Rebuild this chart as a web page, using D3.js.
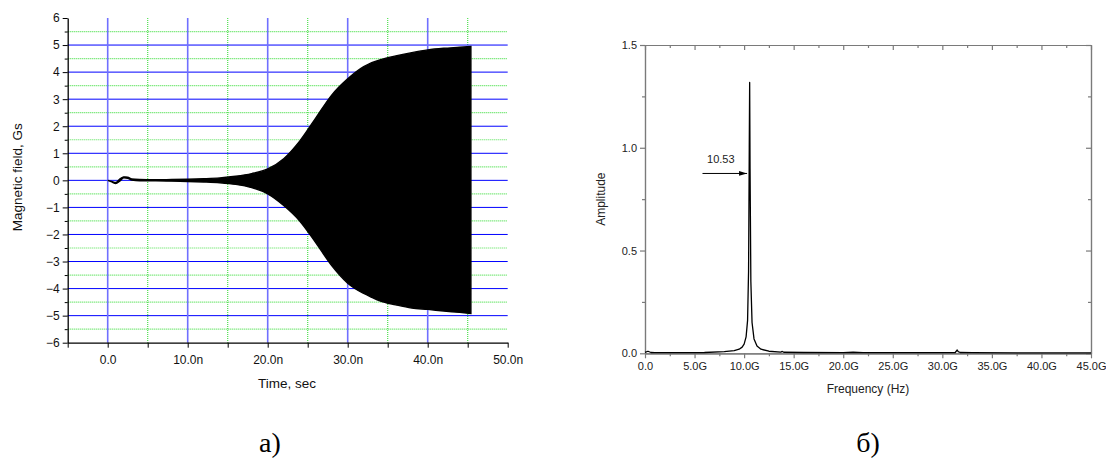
<!DOCTYPE html>
<html>
<head>
<meta charset="utf-8">
<script src="https://cdn.jsdelivr.net/npm/d3@7"></script>
<style>
  body { margin: 0; background: #fff; }
  svg { display: block; font-family: "Liberation Sans", Arial, sans-serif; }
</style>
</head>
<body>
<svg id="chart" width="1106" height="462"></svg>
<script>
// ---- panel a): magnetic field envelope (time in ns) ----
const timeNs = [0, 0.5, 1.0, 1.5, 2.0, 2.5, 3.0, 4, 6, 8, 10, 12, 14, 16, 18, 20, 22, 24, 26, 28, 30, 32, 33, 34, 36, 38, 40, 42, 44, 45.4];
const fieldUpper = [0, -0.04, -0.08, 0.05, 0.13, 0.12, 0.05, 0.03, 0.02, 0.03, 0.04, 0.06, 0.09, 0.15, 0.25, 0.42, 0.8, 1.45, 2.3, 3.15, 3.75, 4.2, 4.35, 4.45, 4.6, 4.72, 4.82, 4.88, 4.92, 4.95];
const fieldLower = [0, -0.06, -0.12, -0.03, 0.09, 0.08, 0.01, -0.02, -0.02, -0.03, -0.04, -0.06, -0.09, -0.15, -0.27, -0.5, -0.93, -1.5, -2.3, -3.15, -3.8, -4.18, -4.32, -4.45, -4.6, -4.72, -4.77, -4.83, -4.88, -4.92];
const timeTicks = [0, 10, 20, 30, 40, 50];
const timeMinor = [-5, 5, 15, 25, 35, 45];
const fieldTicks = [-6, -5, -4, -3, -2, -1, 0, 1, 2, 3, 4, 5, 6];
const fieldMinor = [-5.5, -4.5, -3.5, -2.5, -1.5, -0.5, 0.5, 1.5, 2.5, 3.5, 4.5, 5.5];

// ---- panel б): spectrum (frequency in GHz) ----
const freqG = [0, 0.3, 0.6, 1, 2, 4, 6, 8, 9, 9.5, 9.8, 10.0, 10.2, 10.35, 10.45, 10.52, 10.56, 10.6, 10.68, 10.8, 11.0, 11.3, 11.7, 12.5, 13.7, 13.85, 14.0, 16, 20, 21, 22, 25, 30, 31.3, 31.5, 31.6, 31.8, 33, 38, 45];
const amplitude = [0.005, 0.01, 0.004, 0.003, 0.003, 0.003, 0.004, 0.008, 0.013, 0.02, 0.03, 0.045, 0.08, 0.16, 0.4, 1.0, 1.318, 0.9, 0.35, 0.15, 0.07, 0.035, 0.02, 0.01, 0.006, 0.009, 0.005, 0.004, 0.003, 0.005, 0.003, 0.003, 0.003, 0.004, 0.016, 0.008, 0.004, 0.003, 0.002, 0.002];
const freqTicks = [0, 5, 10, 15, 20, 25, 30, 35, 40, 45];
const freqMinor = [2.5, 7.5, 12.5, 17.5, 22.5, 27.5, 32.5, 37.5, 42.5];
const ampTicks = [0, 0.5, 1.0, 1.5];
const ampMinor = [0.25, 0.75, 1.25];
const peakLabel = "10.53";
const arrowFreq = [5.8, 10.3];   // arrow start / end, GHz
const arrowAmp = 0.875;

const svg = d3.select("#chart");

// ================= panel a) =================
const xa = d3.scaleLinear().domain([-5, 50]).range([67.7, 507.7]);
const ya = d3.scaleLinear().domain([-6, 6]).range([342.7, 18]);

const ga = svg.append("g");

// minor grid (green dotted)
ga.append("g").selectAll("line").data(fieldMinor).join("line")
    .attr("x1", xa(-5)).attr("x2", xa(50))
    .attr("y1", d => ya(d)).attr("y2", d => ya(d))
    .attr("stroke", "#4fe04f").attr("stroke-width", 1.2).attr("stroke-dasharray", "1,1");
ga.append("g").selectAll("line").data(timeMinor.filter(d => d > -5)).join("line")
    .attr("x1", d => xa(d)).attr("x2", d => xa(d))
    .attr("y1", ya(6)).attr("y2", ya(-6))
    .attr("stroke", "#4fe04f").attr("stroke-width", 1.2).attr("stroke-dasharray", "1,1");

// major grid (blue)
ga.append("g").selectAll("line").data(fieldTicks.filter(d => Math.abs(d) < 6)).join("line")
    .attr("x1", xa(-5)).attr("x2", xa(50))
    .attr("y1", d => ya(d)).attr("y2", d => ya(d))
    .attr("stroke", "#0000ff").attr("stroke-width", 1);
ga.append("g").selectAll("line").data(timeTicks.filter(d => d < 50)).join("line")
    .attr("x1", d => xa(d)).attr("x2", d => xa(d))
    .attr("y1", ya(6)).attr("y2", ya(-6))
    .attr("stroke", "#7070ff").attr("stroke-width", 1.6);

// envelope
const env = timeNs.map((t, i) => [t, fieldUpper[i], fieldLower[i]]);
ga.append("path")
    .datum(env)
    .attr("fill", "#000")
    .attr("stroke", "#000")
    .attr("stroke-width", 1.4)
    .attr("d", d3.area().x(d => xa(d[0])).y0(d => ya(d[2])).y1(d => ya(d[1])).curve(d3.curveMonotoneX));

// axes
const fmtTime = d => d === 0 ? "0.0" : d.toFixed(1) + "n";
ga.append("g")
    .attr("transform", `translate(0,${ya(-6)})`)
    .call(d3.axisBottom(xa).tickValues(timeMinor.concat(timeTicks)).tickFormat(d => timeTicks.includes(d) ? fmtTime(d) : "").tickSize(5).tickSizeOuter(0).tickPadding(8))
    .call(g => g.select(".domain").attr("stroke-width", 1.3))
    .call(g => g.selectAll("text").attr("font-size", 12).attr("font-family", "Liberation Sans, Arial").attr("fill", "#111"));

ga.append("g")
    .attr("transform", `translate(${xa(-5)},0)`)
    .call(d3.axisLeft(ya).tickValues(fieldTicks).tickFormat(d3.format("d")).tickSize(5).tickSizeOuter(0).tickPadding(3))
    .call(g => g.select(".domain").attr("stroke-width", 1.3))
    .call(g => g.selectAll("text").attr("font-size", 12).attr("font-family", "Liberation Sans, Arial").attr("fill", "#111"));
ga.append("g")
    .attr("transform", `translate(${xa(-5)},0)`)
    .call(d3.axisLeft(ya).tickValues(fieldMinor).tickFormat("").tickSize(3).tickSizeOuter(0))
    .call(g => g.select(".domain").remove());

ga.append("text")
    .attr("transform", `translate(22,${(ya(6) + ya(-6)) / 2 - 3}) rotate(-90)`)
    .attr("text-anchor", "middle")
    .attr("font-size", 13.5)
    .attr("fill", "#111")
    .text("Magnetic field, Gs");

ga.append("text")
    .attr("x", 287).attr("y", 388)
    .attr("text-anchor", "middle")
    .attr("font-size", 13.5)
    .attr("fill", "#111")
    .text("Time, sec");

svg.append("text")
    .attr("x", 270).attr("y", 452)
    .attr("text-anchor", "middle")
    .attr("font-family", "Liberation Serif, Times New Roman, serif")
    .attr("font-size", 28)
    .text("a)");

// ================= panel б) =================
const xb = d3.scaleLinear().domain([0, 45]).range([645, 1091]);
const yb = d3.scaleLinear().domain([0, 1.5]).range([353.3, 45]);
const gb = svg.append("g");
const axisGrey = "#7a7a7a";

function styleAxis(g) {
    g.selectAll(".domain, line").attr("stroke", axisGrey).attr("stroke-width", 1.2);
    g.selectAll("text").attr("font-size", 11).attr("font-family", "Liberation Sans, Arial").attr("fill", "#222");
}

const fmtFreq = d => d === 0 ? "0.0" : d.toFixed(1) + "G";
// bottom
gb.append("g").attr("transform", `translate(0,${yb(0)})`)
    .call(d3.axisBottom(xb).tickValues(freqTicks).tickFormat(fmtFreq).tickSize(5).tickSizeOuter(0).tickPadding(4))
    .call(styleAxis);
gb.append("g").attr("transform", `translate(0,${yb(0)})`)
    .call(d3.axisBottom(xb).tickValues(freqMinor).tickFormat("").tickSize(3).tickSizeOuter(0))
    .call(styleAxis);
// top
gb.append("g").attr("transform", `translate(0,${yb(1.5)})`)
    .call(d3.axisBottom(xb).tickValues(freqTicks).tickFormat("").tickSize(5).tickSizeOuter(0))
    .call(styleAxis);
gb.append("g").attr("transform", `translate(0,${yb(1.5)})`)
    .call(d3.axisBottom(xb).tickValues(freqMinor).tickFormat("").tickSize(3).tickSizeOuter(0))
    .call(styleAxis);
// left
gb.append("g").attr("transform", `translate(${xb(0)},0)`)
    .call(d3.axisLeft(yb).tickValues(ampTicks).tickFormat(d3.format(".1f")).tickSize(5).tickSizeOuter(0).tickPadding(3))
    .call(styleAxis);
gb.append("g").attr("transform", `translate(${xb(0)},0)`)
    .call(d3.axisLeft(yb).tickValues(ampMinor).tickFormat("").tickSize(3).tickSizeOuter(0))
    .call(styleAxis);
// right
gb.append("g").attr("transform", `translate(${xb(45)},0)`)
    .call(d3.axisLeft(yb).tickValues(ampTicks).tickFormat("").tickSize(5).tickSizeOuter(0))
    .call(styleAxis);
gb.append("g").attr("transform", `translate(${xb(45)},0)`)
    .call(d3.axisLeft(yb).tickValues(ampMinor).tickFormat("").tickSize(3).tickSizeOuter(0))
    .call(styleAxis);

// spectrum line
gb.append("path")
    .datum(freqG.map((f, i) => [f, amplitude[i]]))
    .attr("fill", "none")
    .attr("stroke", "#000")
    .attr("stroke-width", 1.3)
    .attr("stroke-linejoin", "round")
    .attr("d", d3.line().x(d => xb(d[0])).y(d => yb(d[1])));

// arrow annotation
svg.append("defs").append("marker")
    .attr("id", "arrowhead")
    .attr("viewBox", "0 0 10 6")
    .attr("refX", 10).attr("refY", 3)
    .attr("markerWidth", 8).attr("markerHeight", 5)
    .attr("markerUnits", "userSpaceOnUse")
    .attr("orient", "auto")
    .append("path").attr("d", "M0,0 L10,3 L0,6 Z").attr("fill", "#000");

gb.append("line")
    .attr("x1", xb(arrowFreq[0])).attr("x2", xb(arrowFreq[1]))
    .attr("y1", yb(arrowAmp)).attr("y2", yb(arrowAmp))
    .attr("stroke", "#000").attr("stroke-width", 1)
    .attr("marker-end", "url(#arrowhead)");
gb.append("text")
    .attr("x", (xb(arrowFreq[0]) + xb(arrowFreq[1])) / 2 - 4)
    .attr("y", yb(arrowAmp) - 10)
    .attr("text-anchor", "middle")
    .attr("font-size", 11)
    .attr("fill", "#222")
    .text(peakLabel);

gb.append("text")
    .attr("transform", `translate(605,${(yb(0) + yb(1.5)) / 2}) rotate(-90)`)
    .attr("text-anchor", "middle")
    .attr("font-size", 12)
    .attr("fill", "#222")
    .text("Amplitude");
gb.append("text")
    .attr("x", (xb(0) + xb(45)) / 2).attr("y", 393)
    .attr("text-anchor", "middle")
    .attr("font-size", 12)
    .attr("fill", "#222")
    .text("Frequency (Hz)");

svg.append("text")
    .attr("x", 868).attr("y", 452)
    .attr("text-anchor", "middle")
    .attr("font-family", "Liberation Serif, Times New Roman, serif")
    .attr("font-size", 28)
    .text("б)");
</script>
</body>
</html>
